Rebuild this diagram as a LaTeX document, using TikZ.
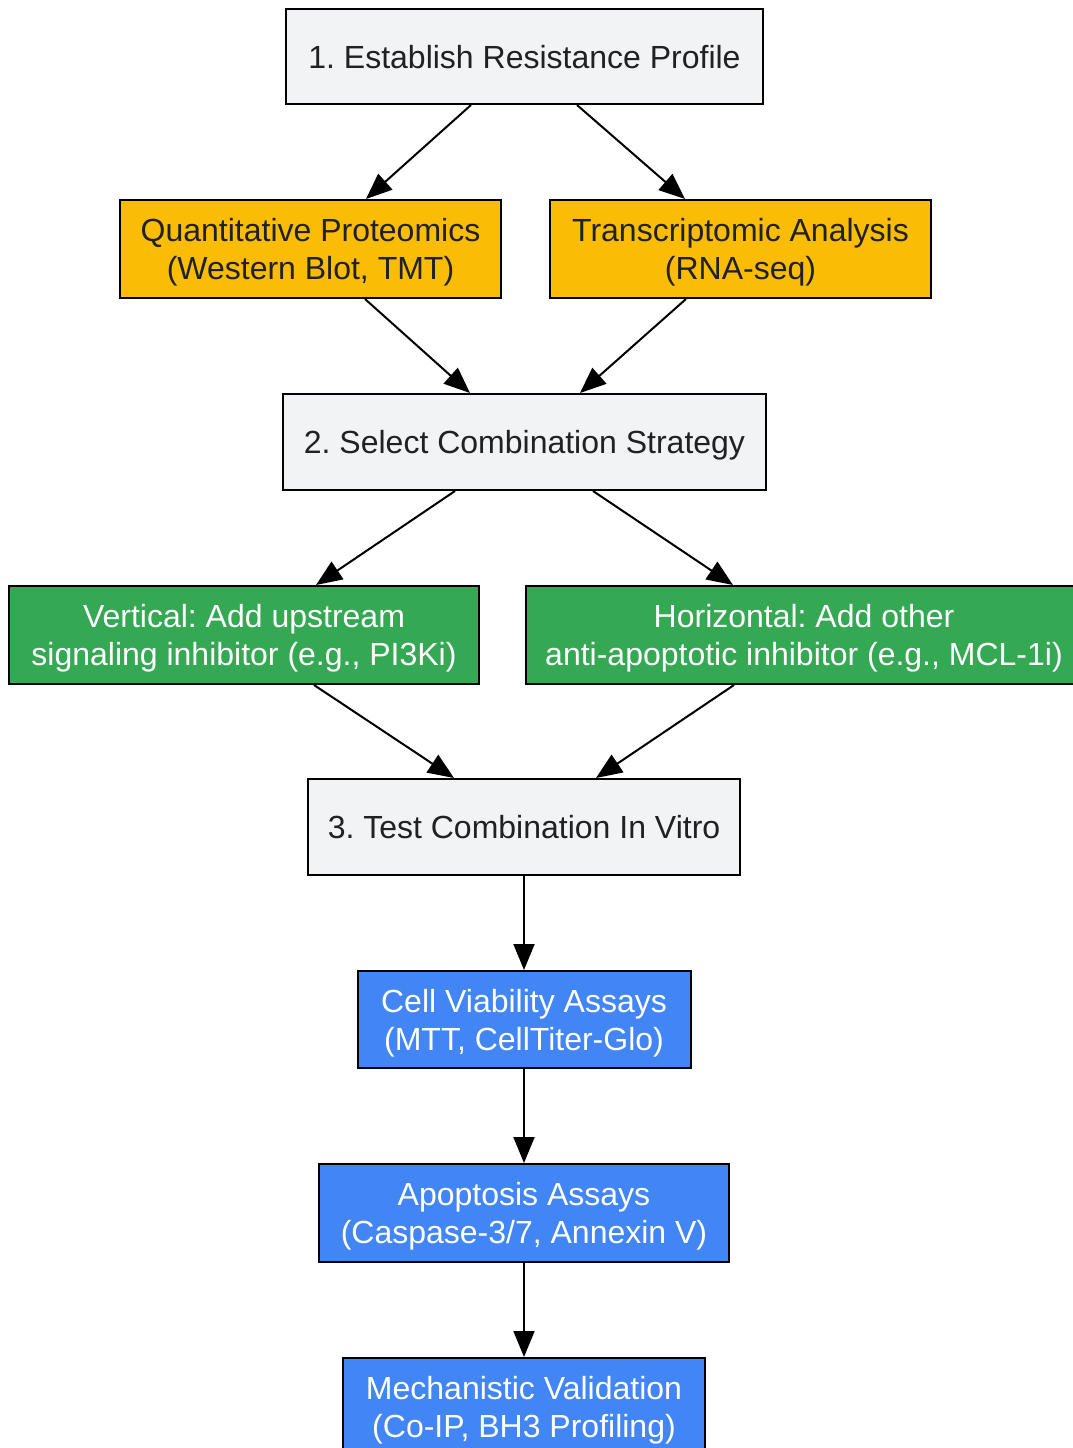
\documentclass[tikz,border=0pt]{standalone}
\usepackage{fontspec}
\setmainfont{Liberation Sans}
\frenchspacing
\usetikzlibrary{arrows.meta}
\definecolor{grayfill}{HTML}{F1F3F4}
\definecolor{darktext}{HTML}{202124}
\definecolor{yel}{HTML}{FBBC05}
\definecolor{grn}{HTML}{34A853}
\definecolor{blu}{HTML}{4285F4}
\tikzset{
  box/.style={draw=black, line width=2pt, inner sep=0pt, align=center, text depth=0pt,
    font=\fontsize{32}{38}\selectfont},
  graybox/.style={box, fill=grayfill, text=darktext},
  yelbox/.style={box, fill=yel, text=darktext},
  grnbox/.style={box, fill=grn, text=white},
  blubox/.style={box, fill=blu, text=white},
  conn/.style={draw=black, line width=2pt, -{Triangle[length=26pt,width=21pt]}}
}
\begin{document}
\begin{tikzpicture}[x=1pt,y=-1pt]
\useasboundingbox (0,0) rectangle (1072,1448);
\node[graybox, minimum width=477pt, minimum height=95pt] (b1) at (524.5,56.5) {1. Establish Resistance Profile};
\node[yelbox, minimum width=381pt, minimum height=98pt] (qp) at (310.5,249) {Quantitative Proteomics\\(Western Blot, TMT)};
\node[yelbox, minimum width=381pt, minimum height=98pt] (ta) at (740.5,249) {Transcriptomic Analysis\\(RNA-seq)};
\node[graybox, minimum width=483pt, minimum height=96pt] (b2) at (524.5,442) {2. Select Combination Strategy};
\node[grnbox, minimum width=470pt, minimum height=98pt] (v) at (244,635) {Vertical: Add upstream\\signaling inhibitor (e.g., PI3Ki)};
\node[grnbox, minimum width=556pt, minimum height=98pt] (h) at (804,635) {Horizontal: Add other\\anti-apoptotic inhibitor (e.g., MCL-1i)};
\node[graybox, minimum width=432pt, minimum height=96pt] (b3) at (524,827) {3. Test Combination In Vitro};
\node[blubox, minimum width=333pt, minimum height=97pt] (cv) at (524,1019.5) {Cell Viability Assays\\(MTT, CellTiter-Glo)};
\node[blubox, minimum width=410pt, minimum height=98pt] (ap) at (524,1213) {Apoptosis Assays\\(Caspase-3/7, Annexin V)};
\node[blubox, minimum width=362pt, minimum height=97pt] (mv) at (524,1406.5) {Mechanistic Validation\\(Co-IP, BH3 Profiling)};
\draw[conn] ([xshift=-53.5pt]b1.south) -- ([xshift=55.5pt]qp.north);
\draw[conn] ([xshift=52.5pt]b1.south) -- ([xshift=-55.5pt]ta.north);
\draw[conn] ([xshift=54.5pt]qp.south) -- ([xshift=-54.5pt]b2.north);
\draw[conn] ([xshift=-54.5pt]ta.south) -- ([xshift=55.5pt]b2.north);
\draw[conn] ([xshift=-69.5pt]b2.south) -- ([xshift=72pt]v.north);
\draw[conn] ([xshift=68.5pt]b2.south) -- ([xshift=-71pt]h.north);
\draw[conn] ([xshift=70pt]v.south) -- ([xshift=-70pt]b3.north);
\draw[conn] ([xshift=-70pt]h.south) -- ([xshift=72pt]b3.north);
\draw[conn] (b3.south) -- (cv.north);
\draw[conn] (cv.south) -- (ap.north);
\draw[conn] (ap.south) -- (mv.north);
\end{tikzpicture}
\end{document}
